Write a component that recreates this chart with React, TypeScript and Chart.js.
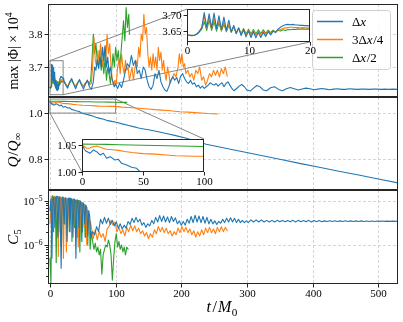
import React, { useEffect, useRef } from 'react';
import { Chart, registerables } from 'chart.js';
Chart.register(...registerables);

const W = 403, H = 322;
const FONT = '"Liberation Serif", "Times New Roman", serif';
const BLUE = '#1f77b4', ORANGE = '#ff7f0e', GREEN = '#2ca02c';
const SPINE = '#262626', GRIDC = '#cccccc', BOXC = '#858585';

// ---------------- data ----------------
const seriesNames = ['Δx', '3Δx/4', 'Δx/2'];

// early (t <= 20) max|Phi| x 1e4, used by main panel and inset
const tEarly = [0,0.4,0.8,1.2,1.6,2,2.4,2.8,3.2,3.6,4,4.4,4.8,5.2,5.6,6,6.4,6.8,7.2,7.6,8,8.4,8.8,9.2,9.6,10,10.4,10.8,11.2,11.6,12,12.4,12.8,13.2,13.6,14,14.4,14.8,15.2,15.6,16,16.4,16.8,17.2,17.6,18,18.4,18.8,19.2,19.6,20];
const phiBlueEarly = [3.638,3.637,3.636,3.637,3.640,3.648,3.660,3.708,3.662,3.704,3.660,3.706,3.658,3.698,3.655,3.694,3.652,3.684,3.648,3.668,3.642,3.660,3.636,3.654,3.632,3.650,3.630,3.648,3.629,3.646,3.630,3.646,3.633,3.648,3.638,3.650,3.646,3.656,3.662,3.667,3.670,3.671,3.670,3.671,3.669,3.669,3.668,3.668,3.667,3.667,3.666];
const phiOrangeEarly = [3.638,3.637,3.636,3.637,3.641,3.650,3.662,3.696,3.660,3.692,3.658,3.690,3.656,3.684,3.652,3.680,3.650,3.672,3.648,3.664,3.644,3.658,3.640,3.654,3.637,3.652,3.636,3.650,3.636,3.649,3.638,3.650,3.640,3.650,3.642,3.651,3.646,3.653,3.655,3.658,3.660,3.661,3.662,3.662,3.661,3.661,3.660,3.661,3.660,3.660,3.659];
const phiGreenEarly = [3.638,3.637,3.637,3.638,3.641,3.648,3.656,3.680,3.652,3.684,3.652,3.680,3.650,3.676,3.650,3.672,3.648,3.668,3.646,3.664,3.644,3.660,3.642,3.658,3.641,3.656,3.641,3.655,3.641,3.654,3.642,3.654,3.643,3.653,3.645,3.653,3.647,3.653,3.650,3.654,3.652,3.655,3.654,3.656,3.655,3.657,3.656,3.657,3.656,3.657,3.656];

// later (t > 20) max|Phi| x 1e4 as [t, value]
const phiBlueLate: [number, number][] = [[21,3.660],[24,3.645],[27,3.636],[30,3.655],[33,3.665],[36,3.648],[39,3.634],[42,3.650],[45,3.662],[48,3.645],[51,3.633],[54,3.648],[57,3.660],[60,3.640],[63,3.632],[66,3.655],[68,3.700],[70,3.690],[72,3.722],[74,3.695],[76,3.730],[78,3.700],[80,3.760],[82,3.720],[84,3.765],[86,3.700],[88,3.730],[90,3.680],[92,3.700],[94,3.668],[96,3.655],[98,3.640],[100,3.648],[103,3.635],[106,3.650],[109,3.638],[112,3.660],[115,3.690],[118,3.710],[121,3.700],[124,3.735],[127,3.705],[130,3.720],[133,3.680],[136,3.690],[139,3.665],[142,3.700],[145,3.690],[148,3.660],[151,3.640],[154,3.632],[157,3.645],[160,3.680],[163,3.665],[166,3.690],[169,3.655],[172,3.640],[175,3.630],[178,3.626],[181,3.640],[184,3.660],[187,3.670],[190,3.660],[193,3.668],[196,3.650],[199,3.672],[202,3.680],[205,3.665],[208,3.655],[211,3.650],[214,3.660],[217,3.648],[220,3.652],[223,3.640],[226,3.645],[229,3.636],[232,3.642],[235,3.635],[238,3.640],[241,3.645],[244,3.652],[247,3.648],[250,3.645],[253,3.650],[256,3.642],[259,3.648],[262,3.652],[265,3.640],[268,3.650],[271,3.655],[274,3.645],[277,3.635],[280,3.628],[284,3.634],[288,3.642],[292,3.647],[296,3.640],[300,3.630],[305,3.627],[310,3.636],[315,3.644],[320,3.640],[325,3.630],[330,3.628],[336,3.637],[342,3.640],[348,3.632],[354,3.628],[360,3.634],[366,3.638],[372,3.634],[378,3.630],[384,3.633],[390,3.636],[396,3.634],[402,3.631],[408,3.633],[414,3.635],[420,3.633],[426,3.631],[432,3.633],[438,3.634],[444,3.632],[450,3.632],[456,3.634],[462,3.633],[468,3.632],[474,3.633],[480,3.633],[486,3.632],[492,3.633],[498,3.633],[504,3.632],[510,3.633],[516,3.632],[522,3.633],[530,3.632]];
const phiOrangeLate: [number, number][] = [[21,3.658],[24,3.648],[27,3.640],[30,3.654],[33,3.662],[36,3.650],[39,3.640],[42,3.652],[45,3.660],[48,3.648],[51,3.640],[54,3.650],[57,3.660],[60,3.646],[63,3.650],[65,3.700],[67,3.790],[69,3.720],[71,3.700],[73,3.750],[75,3.710],[77,3.770],[79,3.730],[81,3.700],[83,3.760],[85,3.720],[87,3.800],[89,3.740],[91,3.770],[93,3.700],[95,3.660],[97,3.645],[99,3.660],[101,3.650],[103,3.700],[105,3.720],[107,3.680],[109,3.740],[111,3.700],[113,3.680],[115,3.720],[117,3.690],[119,3.700],[121,3.660],[123,3.680],[125,3.700],[127,3.660],[129,3.690],[131,3.720],[133,3.700],[135,3.760],[137,3.730],[139,3.800],[141,3.780],[143,3.860],[145,3.800],[147,3.820],[149,3.740],[151,3.700],[153,3.730],[155,3.690],[157,3.740],[159,3.700],[161,3.730],[163,3.690],[165,3.760],[167,3.720],[169,3.745],[171,3.690],[173,3.720],[175,3.680],[177,3.660],[179,3.700],[181,3.680],[183,3.650],[186,3.665],[189,3.680],[192,3.670],[195,3.700],[197,3.740],[199,3.710],[201,3.740],[203,3.700],[205,3.710],[207,3.680],[210,3.690],[213,3.670],[216,3.680],[219,3.660],[222,3.690],[225,3.680],[228,3.700],[231,3.660],[234,3.670],[237,3.645],[240,3.660],[243,3.680],[246,3.670],[249,3.690],[252,3.675],[255,3.690],[258,3.670],[261,3.695],[264,3.680],[267,3.700],[270,3.672]];
const phiGreenLate: [number, number][] = [[21,3.655],[24,3.648],[27,3.640],[30,3.652],[33,3.660],[36,3.650],[39,3.642],[42,3.652],[45,3.658],[48,3.648],[51,3.642],[54,3.652],[57,3.658],[60,3.650],[62,3.660],[64,3.720],[66,3.800],[68,3.740],[70,3.770],[72,3.720],[74,3.700],[76,3.750],[78,3.690],[80,3.720],[82,3.680],[84,3.730],[86,3.660],[88,3.700],[90,3.680],[92,3.650],[94,3.690],[96,3.740],[98,3.700],[100,3.760],[102,3.720],[104,3.750],[106,3.700],[108,3.740],[110,3.790],[112,3.840],[114,3.780],[116,3.880],[118,3.820],[120,3.860],[121,3.800]];

// Q / Q_inf
const qBlue: [number, number][] = [[0,1.050],[1,1.046],[2,1.042],[3,1.039],[4.3,1.0376],[6.6,1.0346],[9.3,1.0407],[12,1.0376],[14.8,1.0315],[17.5,1.0346],[20.2,1.0254],[23,1.0284],[27,1.0222],[29.8,1.0235],[32.5,1.016],[36.6,1.013],[40.7,1.0087],[44.8,1.0068],[47.5,1.0006],[50.3,0.998],[55,0.995],[60,0.991],[65,0.987],[70,0.982],[76,0.977],[82,0.973],[88,0.967],[94,0.964],[101,0.960],[110,0.953],[120,0.946],[127,0.941],[135,0.935],[143,0.931],[152,0.926],[165,0.919],[177,0.911],[190,0.903],[208,0.890],[222,0.877],[238,0.864],[260,0.851],[290,0.834],[320,0.816],[350,0.799],[380,0.781],[410,0.764],[440,0.747],[470,0.730],[500,0.713],[530,0.696]];
const qOrange: [number, number][] = [[0,1.050],[2,1.047],[4,1.044],[6,1.044],[8,1.046],[10,1.047],[12,1.048],[16,1.045],[20,1.042],[25,1.041],[30,1.040],[35,1.038],[41,1.036],[50,1.034],[60,1.033],[69,1.0315],[77,1.030],[85,1.0296],[92,1.029],[100,1.029],[110,1.026],[120,1.024],[130,1.022],[140,1.020],[150,1.018],[160,1.015],[170,1.013],[180,1.011],[190,1.008],[198,1.006],[210,1.004],[220,1.002],[230,1.000],[240,0.998],[248,0.997],[255,0.996]];
const qGreen: [number, number][] = [[0,1.0515],[10,1.0512],[20,1.051],[30,1.0505],[40,1.050],[50,1.0495],[60,1.049],[70,1.0485],[80,1.048],[90,1.0475],[100,1.047],[110,1.0467],[117,1.0465]];

// C_5
const c5Blue: [number, number][] = [[0,6e-6],[1.5,1.1e-5],[3,5e-7],[4.5,1.15e-5],[6,1.2e-5],[7.5,2.5e-6],[9,1.2e-5],[10.5,1.25e-5],[12,1.5e-6],[13.5,1.2e-5],[15,1.2e-5],[17,3e-7],[18.5,1.15e-5],[20,1.2e-5],[21.5,3e-6],[23,1.15e-5],[24.5,1.15e-5],[26,1.2e-6],[27.5,1.1e-5],[29,1.15e-5],[30.5,2e-6],[32,1.1e-5],[33.5,1.1e-5],[35,1.5e-6],[36.5,1.1e-5],[38,1.05e-5],[39.5,5e-7],[41,1.05e-5],[42.5,1e-5],[44,2.5e-6],[45.5,1e-5],[47,9.5e-6],[48.5,1.2e-6],[50,9e-6],[51.5,8.5e-6],[53,3e-6],[54.5,8e-6],[56,7e-6],[57.5,1.6e-6],[59,6e-6],[60.5,4.5e-6],[62,1.5e-6],[65,2.0e-6],[68,1.7e-6],[71,2.6e-6],[74,2.0e-6],[77,3.8e-6],[80,3.0e-6],[83,4.2e-6],[86,3.1e-6],[89,4.0e-6],[92,2.9e-6],[95,3.6e-6],[98,2.7e-6],[101,3.3e-6],[104,2.4e-6],[107,3.0e-6],[110,2.3e-6],[113,2.8e-6],[116,2.4e-6],[119,3.4e-6],[122,2.9e-6],[125,4.0e-6],[128,3.2e-6],[131,4.2e-6],[134,3.3e-6],[137,3.8e-6],[140,2.8e-6],[143,3.2e-6],[146,2.5e-6],[149,3.0e-6],[152,2.7e-6],[155,3.6e-6],[158,3.0e-6],[161,4.2e-6],[164,3.3e-6],[167,4.6e-6],[170,3.4e-6],[173,4.5e-6],[176,3.3e-6],[179,4.3e-6],[182,3.2e-6],[185,4.4e-6],[188,3.4e-6],[191,4.1e-6],[194,3.0e-6],[197,3.5e-6],[200,2.8e-6],[203,3.4e-6],[206,2.8e-6],[209,3.8e-6],[212,3.1e-6],[215,4.4e-6],[218,3.2e-6],[221,4.7e-6],[224,3.3e-6],[227,4.5e-6],[230,3.2e-6],[233,4.4e-6],[236,3.1e-6],[239,4.2e-6],[242,3.0e-6],[245,3.8e-6],[248,3.0e-6],[251,3.5e-6],[254,2.9e-6],[257,3.4e-6],[260,3.1e-6],[263,3.8e-6],[266,3.2e-6],[269,4.0e-6],[272,3.3e-6],[275,4.1e-6],[278,3.3e-6],[281,4.0e-6],[284,3.2e-6],[287,3.8e-6],[290,3.2e-6],[293,3.6e-6],[296,3.2e-6],[299,3.5e-6],[302,3.2e-6],[306,3.7e-6],[310,3.3e-6],[314,3.7e-6],[318,3.3e-6],[322,3.7e-6],[326,3.3e-6],[330,3.6e-6],[334,3.3e-6],[338,3.6e-6],[342,3.3e-6],[346,3.6e-6],[350,3.35e-6],[354,3.55e-6],[358,3.35e-6],[362,3.55e-6],[366,3.35e-6],[370,3.6e-6],[374,3.3e-6],[378,3.6e-6],[382,3.35e-6],[386,3.55e-6],[390,3.35e-6],[394,3.6e-6],[398,3.3e-6],[402,3.55e-6],[406,3.35e-6],[410,3.55e-6],[414,3.35e-6],[418,3.5e-6],[422,3.38e-6],[426,3.52e-6],[430,3.38e-6],[434,3.52e-6],[438,3.38e-6],[442,3.5e-6],[446,3.4e-6],[450,3.52e-6],[454,3.38e-6],[458,3.5e-6],[462,3.4e-6],[466,3.5e-6],[470,3.4e-6],[474,3.5e-6],[478,3.4e-6],[482,3.48e-6],[486,3.4e-6],[490,3.48e-6],[494,3.4e-6],[498,3.47e-6],[502,3.41e-6],[506,3.47e-6],[510,3.41e-6],[514,3.46e-6],[518,3.41e-6],[522,3.46e-6],[526,3.42e-6],[530,3.45e-6]];
const c5Orange: [number, number][] = [[0,3e-6],[1.5,1e-5],[3,1.25e-5],[4.5,2.5e-6],[6,1.2e-5],[7.2,1.2e-5],[8.5,3.5e-6],[10,1.2e-5],[11.4,1.2e-5],[12.7,5.5e-7],[14,1.15e-5],[15.3,1.2e-5],[16.5,2e-6],[18,1.15e-5],[19.3,1.1e-5],[20.5,5e-7],[22,1.1e-5],[23.5,1.15e-5],[25,7e-7],[26.5,1.1e-5],[28,1.1e-5],[29.5,2.5e-6],[31,1.1e-5],[32.5,1.05e-5],[34,1.8e-6],[35.5,1.05e-5],[37,1.05e-5],[38.5,2.8e-6],[40,1e-5],[41.5,1e-5],[43,9e-7],[44.5,9.5e-6],[46,9e-6],[47.5,2e-6],[49,9e-6],[50.5,8.5e-6],[52,2.5e-6],[53.5,8e-6],[55,7e-6],[56,1e-6],[57.5,6e-6],[59,5e-6],[60,2e-6],[61.5,3.5e-6],[63,2.5e-6],[66,1.4e-6],[69,2.2e-6],[72,1.3e-6],[75,2.0e-6],[78,1.5e-6],[81,1.8e-6],[84,1.2e-6],[87,2.3e-6],[90,2.6e-6],[93,3.6e-6],[96,2.8e-6],[99,3.3e-6],[102,2.0e-6],[105,2.5e-6],[108,1.8e-6],[111,2.2e-6],[114,1.6e-6],[117,2.5e-6],[120,2.0e-6],[123,2.8e-6],[126,2.1e-6],[129,2.7e-6],[132,2.0e-6],[135,2.4e-6],[138,1.8e-6],[141,2.1e-6],[144,1.6e-6],[147,1.9e-6],[150,1.4e-6],[153,1.8e-6],[156,1.5e-6],[159,2.2e-6],[162,1.8e-6],[165,2.6e-6],[168,2.0e-6],[171,2.5e-6],[174,1.9e-6],[177,2.4e-6],[180,1.8e-6],[183,2.1e-6],[186,1.6e-6],[189,2.0e-6],[192,1.7e-6],[195,2.4e-6],[198,1.9e-6],[201,2.6e-6],[204,2.0e-6],[207,2.5e-6],[210,1.9e-6],[213,2.3e-6],[216,1.7e-6],[219,2.1e-6],[222,1.5e-6],[225,2.0e-6],[228,1.6e-6],[231,2.2e-6],[234,1.7e-6],[237,2.4e-6],[240,1.9e-6],[243,2.5e-6],[246,1.9e-6],[249,2.3e-6],[252,1.8e-6],[255,2.5e-6],[258,2.0e-6],[261,2.6e-6],[264,2.0e-6],[267,2.5e-6],[270,2.1e-6]];
const c5Green: [number, number][] = [[0,5e-7],[1.5,1.4e-7],[2.8,1.1e-5],[4.2,1.3e-5],[5.5,2e-6],[6.8,1.25e-5],[8.2,1.2e-5],[9.5,4e-7],[10.8,1.25e-5],[12.2,1.2e-5],[13.5,2e-6],[14.8,1.2e-5],[16.2,1.15e-5],[17.5,1e-6],[18.8,1.2e-5],[20.2,1.15e-5],[21.5,3e-6],[22.8,1.15e-5],[24.2,1.1e-5],[25.5,1.5e-6],[26.8,1.1e-5],[28.2,1.1e-5],[29.5,2e-6],[30.8,1.1e-5],[32.2,1.05e-5],[33.5,1.2e-6],[34.8,1.05e-5],[36.2,1.05e-5],[37.5,2.5e-6],[38.8,1e-5],[40.2,1e-5],[41.5,1.5e-6],[42.8,1e-5],[44.2,9.5e-6],[45.5,7e-7],[46.8,9e-6],[48.2,9e-6],[49.5,2e-6],[50.8,8.5e-6],[52.2,8e-6],[53.5,1.5e-6],[54.8,7e-6],[56.2,6e-6],[57.5,1e-6],[58.8,5e-6],[60,3.5e-6],[61.2,8e-7],[63,2.0e-6],[65,1.2e-6],[67,8e-7],[69,1.1e-6],[71,7e-7],[73,9e-7],[75,6e-7],[77,8e-7],[79,2.2e-7],[81,6e-7],[83,8e-7],[85,1.0e-6],[87,9e-7],[89,1.3e-6],[91,1.0e-6],[93,6e-7],[95,1.6e-7],[97,5e-7],[99,1.2e-6],[101,1.8e-6],[103,9e-7],[105,1.2e-6],[107,8e-7],[109,1.0e-6],[111,7e-7],[113,9e-7],[115,6e-7],[117,9e-7],[119,8e-7]];

// ticks and ranges
const xTicks = [0, 100, 200, 300, 400, 500];
const phiTicks = [3.7, 3.8];
const qTicks = [0.8, 1.0];
const c5Ticks = [1e-6, 1e-5];
const c5Minor = [2e-7,3e-7,4e-7,5e-7,6e-7,7e-7,8e-7,9e-7,2e-6,3e-6,4e-6,5e-6,6e-6,7e-6,8e-6,9e-6];
const inset1XTicks = [0, 10, 20];
const inset1YTicks = [3.65, 3.70];
const inset2XTicks = [0, 50, 100];
const inset2YTicks = [1.00, 1.05];
const xRange = [-3, 530];
const phiRange = [3.609, 3.891];
const qRange = [0.665, 1.07];
const c5Range = [1.32e-7, 1.74e-5];
const inset1XRange = [0, 20];
const inset1YRange = [3.616, 3.719];
const inset2XRange = [0, 100];
const inset2YRange = [1.0, 1.061];

// ---------------- layout ----------------
type Rect = { l: number; t: number; r: number; b: number };
const P_TOP: Rect = { l: 48, t: 4, r: 398, b: 97 };
const P_MID: Rect = { l: 48, t: 97, r: 398, b: 190 };
const P_BOT: Rect = { l: 48, t: 190, r: 398, b: 284 };
const P_IN1: Rect = { l: 187, t: 9, r: 310, b: 42 };
const P_IN2: Rect = { l: 82, t: 139, r: 204, b: 172 };

type Seg = { t: string; it?: boolean; sub?: boolean; sup?: boolean; gap?: number };
function segFont(s: Seg, size: number) {
  const sz = s.sub || s.sup ? size * 0.7 : size;
  return `${s.it ? 'italic ' : ''}${sz}px ${FONT}`;
}
function drawRich(ctx: CanvasRenderingContext2D, segs: Seg[], x: number, y: number, size: number, align: 'left' | 'center' | 'right', rotate = false) {
  ctx.save();
  const ws: number[] = [];
  let total = 0;
  for (const s of segs) {
    ctx.font = segFont(s, size);
    const w = ctx.measureText(s.t).width + (s.gap || 0);
    ws.push(w);
    total += w;
  }
  ctx.translate(x, y);
  if (rotate) ctx.rotate(-Math.PI / 2);
  let cx = align === 'left' ? 0 : align === 'center' ? -total / 2 : -total;
  ctx.textAlign = 'left';
  ctx.textBaseline = 'alphabetic';
  ctx.fillStyle = '#000';
  segs.forEach((s, i) => {
    ctx.font = segFont(s, size);
    const dy = s.sub ? size * 0.22 : s.sup ? -size * 0.42 : 0;
    ctx.fillText(s.t, cx, dy);
    cx += ws[i];
  });
  ctx.restore();
}

const pts = (arr: [number, number][]) => arr.map(([x, y]) => ({ x, y }));
const earlyPts = (vals: number[]) => tEarly.map((t, i) => ({ x: t, y: vals[i] }));

type PanelCfg = {
  yTicks: number[];
  yLabel: (v: number) => Seg[];
  yMinor?: number[];
  xTicks: number[];
  xLabels: boolean;
  xLabelOffset?: number;
  grid: boolean;
  white?: boolean;
  extra?: (chart: any, ctx: CanvasRenderingContext2D) => void;
  after?: (chart: any, ctx: CanvasRenderingContext2D) => void;
};

function panelPlugin(cfg: PanelCfg) {
  return {
    id: 'panelDecor',
    beforeDatasetsDraw(chart: any) {
      const ctx: CanvasRenderingContext2D = chart.ctx;
      const { left, top, right, bottom } = chart.chartArea;
      const xs = chart.scales.x, ys = chart.scales.y;
      ctx.save();
      if (cfg.white) {
        ctx.fillStyle = '#ffffff';
        ctx.fillRect(left, top, right - left, bottom - top);
      }
      if (cfg.grid) {
        ctx.strokeStyle = GRIDC;
        ctx.lineWidth = 0.8;
        ctx.setLineDash([3, 2]);
        for (const v of cfg.xTicks) {
          const px = Math.round(xs.getPixelForValue(v)) + 0.5;
          ctx.beginPath(); ctx.moveTo(px, top); ctx.lineTo(px, bottom); ctx.stroke();
        }
        for (const v of cfg.yTicks) {
          const py = Math.round(ys.getPixelForValue(v)) + 0.5;
          ctx.beginPath(); ctx.moveTo(left, py); ctx.lineTo(right, py); ctx.stroke();
        }
        ctx.setLineDash([]);
      }
      if (cfg.extra) cfg.extra(chart, ctx);
      ctx.restore();
    },
    afterDraw(chart: any) {
      const ctx: CanvasRenderingContext2D = chart.ctx;
      const { left, top, right, bottom } = chart.chartArea;
      const xs = chart.scales.x, ys = chart.scales.y;
      ctx.save();
      ctx.strokeStyle = SPINE;
      ctx.lineWidth = 1;
      ctx.strokeRect(left + 0.5, top + 0.5, right - left - 1, bottom - top - 1);
      // y ticks
      for (const v of cfg.yTicks) {
        const py = Math.round(ys.getPixelForValue(v)) + 0.5;
        ctx.beginPath(); ctx.moveTo(left - 3.5, py); ctx.lineTo(left, py); ctx.stroke();
        drawRich(ctx, cfg.yLabel(v), left - 5.5, py + 3.8, 11, 'right');
      }
      if (cfg.yMinor) {
        for (const v of cfg.yMinor) {
          const py = Math.round(ys.getPixelForValue(v)) + 0.5;
          if (py < top || py > bottom) continue;
          ctx.beginPath(); ctx.moveTo(left - 2, py); ctx.lineTo(left, py); ctx.stroke();
        }
      }
      if (cfg.xLabels) {
        for (const v of cfg.xTicks) {
          const px = Math.round(xs.getPixelForValue(v)) + 0.5;
          ctx.beginPath(); ctx.moveTo(px, bottom); ctx.lineTo(px, bottom + 3.5); ctx.stroke();
          drawRich(ctx, [{ t: String(v) }], px, bottom + (cfg.xLabelOffset || 13), 11, 'center');
        }
      }
      if (cfg.after) cfg.after(chart, ctx);
      ctx.restore();
    },
  };
}

function makeChart(canvas: HTMLCanvasElement, area: Rect, datasets: any[], xr: number[], yr: number[], yType: string, plugin: any) {
  return new Chart(canvas, {
    type: 'line',
    data: { datasets },
    options: {
      animation: false,
      responsive: false,
      devicePixelRatio: 1,
      events: [],
      layout: { padding: { left: area.l, top: area.t, right: W - area.r, bottom: H - area.b } },
      scales: {
        x: { type: 'linear', min: xr[0], max: xr[1], display: false },
        y: { type: yType as any, min: yr[0], max: yr[1], display: false },
      },
      plugins: { legend: { display: false }, tooltip: { enabled: false } },
      elements: { point: { radius: 0 }, line: { tension: 0 } },
    } as any,
    plugins: [plugin],
  });
}

const ds = (data: any[], color: string, width = 1.1) => ({
  data, borderColor: color, borderWidth: width, pointRadius: 0, fill: false,
  borderJoinStyle: 'round', borderCapStyle: 'round',
});

const legendSegs: Seg[][] = [
  [{ t: 'Δ' }, { t: 'x', it: true }],
  [{ t: '3Δ' }, { t: 'x', it: true, gap: 0.5 }, { t: '/4' }],
  [{ t: 'Δ' }, { t: 'x', it: true, gap: 0.5 }, { t: '/2' }],
];

export default function App() {
  const r1 = useRef<HTMLCanvasElement>(null);
  const r2 = useRef<HTMLCanvasElement>(null);
  const r3 = useRef<HTMLCanvasElement>(null);
  const r4 = useRef<HTMLCanvasElement>(null);
  const r5 = useRef<HTMLCanvasElement>(null);

  useEffect(() => {
    const phiB = [...earlyPts(phiBlueEarly), ...pts(phiBlueLate)];
    const phiO = [...earlyPts(phiOrangeEarly), ...pts(phiOrangeLate)];
    const phiG = [...earlyPts(phiGreenEarly), ...pts(phiGreenLate)];
    const colors = [BLUE, ORANGE, GREEN];

    const top = makeChart(r1.current!, P_TOP, [ds(phiB, BLUE), ds(phiO, ORANGE), ds(phiG, GREEN)], xRange, phiRange, 'linear',
      panelPlugin({
        yTicks: phiTicks, yLabel: (v) => [{ t: v.toFixed(1) }], xTicks, xLabels: false, grid: true,
        extra: (chart, ctx) => {
          const xs = chart.scales.x, ys = chart.scales.y;
          const x0 = xs.getPixelForValue(inset1XRange[0]), x1 = xs.getPixelForValue(inset1XRange[1]);
          const yT = ys.getPixelForValue(inset1YRange[1]), yB = ys.getPixelForValue(inset1YRange[0]);
          ctx.strokeStyle = BOXC; ctx.lineWidth = 1;
          ctx.strokeRect(x0, yT, x1 - x0, yB - yT);
          ctx.beginPath(); ctx.moveTo(x0, yT); ctx.lineTo(P_IN1.l, P_IN1.t); ctx.stroke();
          ctx.beginPath(); ctx.moveTo(x1, yB); ctx.lineTo(P_IN1.r, P_IN1.b); ctx.stroke();
        },
        after: (chart, ctx) => {
          drawRich(ctx, [{ t: 'max |Φ| × 10' }, { t: '4', sup: true }], 17.5, 51, 14, 'center', true);
          // legend
          const bx = 312.5, by = 10.5, bw = 78, bh = 59;
          ctx.save();
          ctx.fillStyle = 'rgba(255,255,255,0.85)';
          ctx.strokeStyle = '#d0d0d0';
          ctx.lineWidth = 1;
          ctx.beginPath();
          (ctx as any).roundRect(bx, by, bw, bh, 3);
          ctx.fill(); ctx.stroke();
          const rows = [21, 39, 57];
          rows.forEach((ry, i) => {
            ctx.strokeStyle = colors[i]; ctx.lineWidth = 1.5;
            ctx.beginPath(); ctx.moveTo(317, ry + 0.5); ctx.lineTo(343, ry + 0.5); ctx.stroke();
            drawRich(ctx, legendSegs[i], 352, ry + 4.5, 13, 'left');
          });
          ctx.restore();
        },
      }));

    const mid = makeChart(r2.current!, P_MID, [ds(pts(qBlue), BLUE), ds(pts(qOrange), ORANGE), ds(pts(qGreen), GREEN)], xRange, qRange, 'linear',
      panelPlugin({
        yTicks: qTicks, yLabel: (v) => [{ t: v.toFixed(1) }], xTicks, xLabels: false, grid: true,
        extra: (chart, ctx) => {
          const xs = chart.scales.x, ys = chart.scales.y;
          const x0 = xs.getPixelForValue(inset2XRange[0]), x1 = xs.getPixelForValue(inset2XRange[1]);
          const yT = ys.getPixelForValue(inset2YRange[1]), yB = ys.getPixelForValue(inset2YRange[0]);
          ctx.strokeStyle = BOXC; ctx.lineWidth = 1;
          ctx.strokeRect(x0, yT, x1 - x0, yB - yT);
          ctx.beginPath(); ctx.moveTo(x0, yB); ctx.lineTo(P_IN2.l, P_IN2.b); ctx.stroke();
          ctx.beginPath(); ctx.moveTo(x1, yT); ctx.lineTo(P_IN2.r, P_IN2.t); ctx.stroke();
        },
        after: (chart, ctx) => {
          drawRich(ctx, [{ t: 'Q', it: true, gap: 0.5 }, { t: '/', gap: 0.5 }, { t: 'Q', it: true }, { t: '∞', sub: true }], 17.5, 150, 15, 'center', true);
        },
      }));

    const bot = makeChart(r3.current!, P_BOT, [ds(pts(c5Blue), BLUE), ds(pts(c5Orange), ORANGE), ds(pts(c5Green), GREEN)], xRange, c5Range, 'logarithmic',
      panelPlugin({
        yTicks: c5Ticks,
        yLabel: (v) => [{ t: '10' }, { t: '−' + String(Math.round(-Math.log10(v))), sup: true }],
        yMinor: c5Minor, xTicks, xLabels: true, grid: true,
        after: (chart, ctx) => {
          drawRich(ctx, [{ t: 'C', it: true }, { t: '5', sub: true }], 17.5, 237, 15, 'center', true);
          drawRich(ctx, [{ t: 't', it: true, gap: 1.5 }, { t: '/', gap: 1 }, { t: 'M', it: true, gap: 0.5 }, { t: '0', sub: true }], 222, 312, 16, 'center');
        },
      }));

    const in1 = makeChart(r4.current!, P_IN1, [ds(phiB, BLUE, 1.1), ds(phiO, ORANGE, 1.1), ds(phiG, GREEN, 1.1)], inset1XRange, inset1YRange, 'linear',
      panelPlugin({
        yTicks: inset1YTicks, yLabel: (v) => [{ t: v.toFixed(2) }], xTicks: inset1XTicks, xLabels: true, xLabelOffset: 12,
        grid: false, white: true,
      }));

    const in2 = makeChart(r5.current!, P_IN2, [ds(pts(qBlue), BLUE, 1.1), ds(pts(qOrange), ORANGE, 1.1), ds(pts(qGreen), GREEN, 1.1)], inset2XRange, inset2YRange, 'linear',
      panelPlugin({
        yTicks: inset2YTicks, yLabel: (v) => [{ t: v.toFixed(2) }], xTicks: inset2XTicks, xLabels: true, xLabelOffset: 13,
        grid: false, white: true,
      }));

    return () => { top.destroy(); mid.destroy(); bot.destroy(); in1.destroy(); in2.destroy(); };
  }, []);

  const cs: React.CSSProperties = { position: 'absolute', left: 0, top: 0, width: W, height: H };
  return (
    <div style={{ position: 'absolute', left: 0, top: 0, width: W, height: H, background: '#fff', overflow: 'hidden' }}>
      <canvas ref={r1} width={W} height={H} style={cs} />
      <canvas ref={r2} width={W} height={H} style={cs} />
      <canvas ref={r3} width={W} height={H} style={cs} />
      <canvas ref={r4} width={W} height={H} style={cs} />
      <canvas ref={r5} width={W} height={H} style={cs} />
    </div>
  );
}
